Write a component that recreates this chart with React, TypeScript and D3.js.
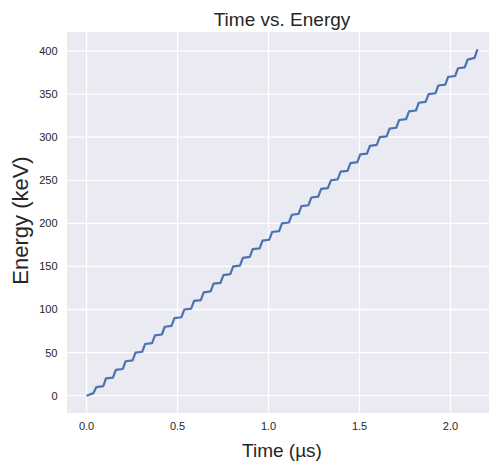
import React from "react";
import * as d3 from "d3";

const timeUs: number[] = [
  0,
  0.038, 0.054, 0.092, 0.107, 0.145, 0.161, 0.199, 0.215, 0.253, 0.269,
  0.306, 0.322, 0.360, 0.376, 0.414, 0.430, 0.467, 0.483, 0.521, 0.537,
  0.575, 0.591, 0.628, 0.644, 0.682, 0.698, 0.736, 0.752, 0.790, 0.806,
  0.843, 0.859, 0.897, 0.913, 0.951, 0.967, 1.004, 1.020, 1.058, 1.074,
  1.112, 1.128, 1.165, 1.181, 1.219, 1.235, 1.273, 1.289, 1.326, 1.343,
  1.380, 1.396, 1.434, 1.450, 1.488, 1.504, 1.541, 1.557, 1.595, 1.611,
  1.649, 1.665, 1.702, 1.718, 1.756, 1.772, 1.810, 1.826, 1.863, 1.880,
  1.917, 1.933, 1.971, 1.987, 2.025, 2.041, 2.078, 2.094, 2.132, 2.148,
];

const energyKeV: number[] = [
  0,
  3, 10, 11, 20, 21, 30, 31, 40, 41, 50,
  51, 60, 61, 70, 71, 80, 81, 90, 91, 100,
  101, 110, 111, 120, 121, 130, 131, 140, 141, 150,
  151, 160, 161, 170, 171, 180, 181, 190, 191, 200,
  201, 210, 211, 220, 221, 230, 231, 240, 241, 250,
  251, 260, 261, 270, 271, 280, 281, 290, 291, 300,
  301, 310, 311, 320, 321, 330, 331, 340, 341, 350,
  351, 360, 361, 370, 371, 380, 381, 390, 392, 402,
];

const xTicks: number[] = [0, 0.5, 1.0, 1.5, 2.0];
const yTicks: number[] = [0, 50, 100, 150, 200, 250, 300, 350, 400];

const titleText = "Time vs. Energy";
const xLabel = "Time (\u00b5s)";
const yLabel = "Energy (keV)";

export default function App() {
  const W = 489;
  const H = 461;
  const left = 67;
  const right = 497;
  const top = 32;
  const bottom = 413;

  const xMin = d3.min(timeUs)!;
  const xMax = d3.max(timeUs)!;
  const xR = xMax - xMin;
  const yMin = d3.min(energyKeV)!;
  const yMax = d3.max(energyKeV)!;
  const yR = yMax - yMin;

  const x = d3
    .scaleLinear()
    .domain([xMin - 0.05 * xR, xMax + 0.05 * xR])
    .range([left, right]);
  const y = d3
    .scaleLinear()
    .domain([yMin - 0.05 * yR, yMax + 0.05 * yR])
    .range([bottom, top]);

  const pts: [number, number][] = timeUs.map((t, i) => [t, energyKeV[i]]);
  const line = d3
    .line<[number, number]>()
    .x((d) => x(d[0]))
    .y((d) => y(d[1]));

  const font = "'Liberation Sans', Arial, sans-serif";
  const textColor = "#262626";

  return (
    <svg
      width={W}
      height={H}
      style={{ position: "absolute", left: 0, top: 0, background: "#fff" }}
      fontFamily={font}
    >
      <rect x={left} y={top} width={right - left} height={bottom - top} fill="#EAEAF2" />
      {xTicks.map((t) => (
        <line key={"gx" + t} x1={x(t)} x2={x(t)} y1={top} y2={bottom} stroke="#fff" strokeWidth={1.3} />
      ))}
      {yTicks.map((t) => (
        <line key={"gy" + t} x1={left} x2={right} y1={y(t)} y2={y(t)} stroke="#fff" strokeWidth={1.3} />
      ))}
      <path
        d={line(pts) || ""}
        fill="none"
        stroke="#4C72B0"
        strokeWidth={2.2}
        strokeLinejoin="round"
        strokeLinecap="butt"
      />
      {xTicks.map((t) => (
        <text key={"tx" + t} x={x(t)} y={430} textAnchor="middle" fontSize={11} fill={textColor}>
          {d3.format(".1f")(t)}
        </text>
      ))}
      {yTicks.map((t) => (
        <text key={"ty" + t} x={57.5} y={y(t)} dy="0.36em" textAnchor="end" fontSize={11} fill={textColor}>
          {t}
        </text>
      ))}
      <text x={(left + right) / 2} y={26} textAnchor="middle" fontSize={19} fill={textColor}>
        {titleText}
      </text>
      <text x={(left + right) / 2} y={457} textAnchor="middle" fontSize={19} fill={textColor}>
        {xLabel}
      </text>
      <text
        transform={`translate(28,${(top + bottom) / 2 - 2}) rotate(-90)`}
        textAnchor="middle"
        fontSize={22}
        fill={textColor}
      >
        {yLabel}
      </text>
    </svg>
  );
}
